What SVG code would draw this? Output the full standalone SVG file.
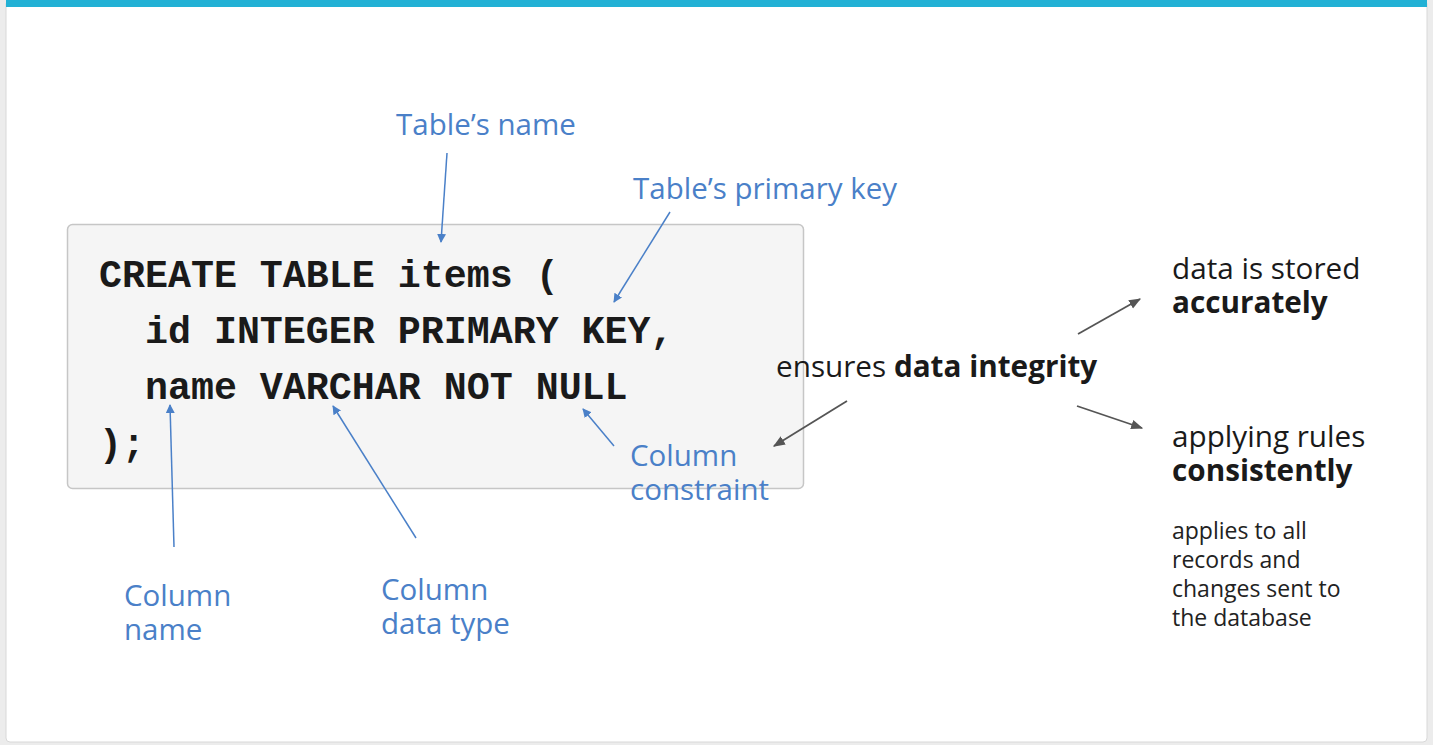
<svg xmlns="http://www.w3.org/2000/svg" width="1433" height="745" viewBox="0 0 1433 745">
<style>
.code{font-family:"Liberation Mono","Courier New",monospace;font-weight:bold;font-size:38.3px;fill:#1a1a1a;white-space:pre}
.lbl{font-family:"Open Sans",sans-serif;font-size:29.5px;fill:#4a80c8}
.txt{font-family:"Open Sans",sans-serif;font-size:29.7px;fill:#1a1a1a}
.sm{font-family:"Open Sans",sans-serif;font-size:23px;fill:#222}
.b{font-weight:bold}
.bl{stroke:#4a80c8;stroke-width:1.5;fill:none}
.gr{stroke:#555;stroke-width:1.8;fill:none}
</style>
<defs>
<marker id="ab" viewBox="0 0 10 10" refX="9" refY="5" markerWidth="9" markerHeight="9" markerUnits="userSpaceOnUse" orient="auto"><path d="M0,0 L10,5 L0,10 z" fill="#4a80c8"/></marker>
<marker id="ag" viewBox="0 0 10 10" refX="9" refY="5" markerWidth="12" markerHeight="12" markerUnits="userSpaceOnUse" orient="auto"><path d="M0,1 L10,5 L0,9 z" fill="#555"/></marker>
</defs>
<rect x="0" y="0" width="1433" height="745" fill="#ececec"/>
<rect x="6" y="0" width="1421" height="742" rx="4" fill="#ffffff" stroke="#d8d8d8" stroke-width="1"/>
<rect x="6" y="0" width="1421" height="7" fill="#22b1d5"/>
<g id="codebox">
<rect x="67.5" y="224.5" width="736" height="264" rx="5" fill="#f5f5f5" stroke="#c6c6c6" stroke-width="1.5"/>
<text class="code"><tspan x="99" y="287">CREATE TABLE items (</tspan><tspan x="99" y="343">  id INTEGER PRIMARY KEY,</tspan><tspan x="99" y="399">  name VARCHAR NOT NULL</tspan><tspan x="99" y="456">);</tspan></text>
</g>
<g id="label-table-name"><text class="lbl" x="396" y="135">Table’s name</text></g>
<g id="label-primary-key"><text class="lbl" x="633" y="199">Table’s primary key</text></g>
<g id="label-column-constraint"><text class="lbl"><tspan x="630" y="466">Column</tspan><tspan x="630" y="500">constraint</tspan></text></g>
<g id="label-column-name"><text class="lbl"><tspan x="124" y="606">Column</tspan><tspan x="124" y="640">name</tspan></text></g>
<g id="label-column-type"><text class="lbl"><tspan x="381" y="600">Column</tspan><tspan x="381" y="634">data type</tspan></text></g>
<g id="integrity"><text class="txt" x="776" y="377">ensures <tspan class="b">data integrity</tspan></text></g>
<g id="accurately"><text class="txt"><tspan x="1172" y="279">data is stored</tspan><tspan class="b" x="1172" y="313">accurately</tspan></text></g>
<g id="consistently"><text class="txt"><tspan x="1172" y="447">applying rules</tspan><tspan class="b" x="1172" y="481">consistently</tspan></text>
<text class="sm"><tspan x="1172" y="539">applies to all</tspan><tspan x="1172" y="568">records and</tspan><tspan x="1172" y="597">changes sent to</tspan><tspan x="1172" y="626">the database</tspan></text></g>
<g id="connectors">
<line class="bl" x1="447" y1="153" x2="441" y2="242" marker-end="url(#ab)"/>
<line class="bl" x1="670" y1="212" x2="614" y2="302" marker-end="url(#ab)"/>
<line class="bl" x1="174" y1="547" x2="170" y2="405" marker-end="url(#ab)"/>
<line class="bl" x1="416" y1="538" x2="333" y2="406" marker-end="url(#ab)"/>
<line class="bl" x1="614" y1="446" x2="583" y2="409" marker-end="url(#ab)"/>
<line class="gr" x1="847" y1="401" x2="774" y2="446" marker-end="url(#ag)"/>
<line class="gr" x1="1078" y1="334" x2="1140" y2="299" marker-end="url(#ag)"/>
<line class="gr" x1="1077" y1="406" x2="1142" y2="428" marker-end="url(#ag)"/>
</g>
</svg>
